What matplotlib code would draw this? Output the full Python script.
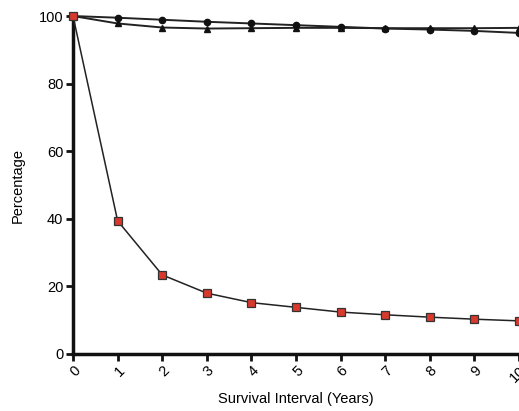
import matplotlib
matplotlib.use('Agg')
import matplotlib.pyplot as plt

plt.rcParams['font.family'] = ['Liberation Sans', 'DejaVu Sans']

years = [0, 1, 2, 3, 4, 5, 6, 7, 8, 9, 10]
series_circle = [100, 99.5, 98.9, 98.3, 97.8, 97.3, 96.8, 96.3, 96.0, 95.6, 95.0]
series_tri = [100, 97.8, 96.6, 96.3, 96.4, 96.5, 96.5, 96.4, 96.4, 96.4, 96.5]
series_square = [100, 39.4, 23.4, 18.0, 15.2, 13.8, 12.4, 11.6, 10.9, 10.3, 9.8]
yticks = [0, 20, 40, 60, 80, 100]

fig = plt.figure(figsize=(5.19, 4.11), dpi=100)
ax = fig.add_axes([0.1407, 0.1387, 0.8593, 0.8223])

ax.plot(years, series_tri, color='#222222', lw=1.4, marker='^', ms=4.5,
        mfc='#111111', mec='#111111', clip_on=False, zorder=3)
ax.plot(years, series_circle, color='#222222', lw=1.4, marker='o', ms=4.5,
        mfc='#111111', mec='#111111', clip_on=False, zorder=3)
ax.plot(years, series_square, color='#222222', lw=1.1, marker='s', ms=5.5,
        mfc='#d8392c', mec='#333333', mew=0.9, clip_on=False, zorder=4)

ax.set_xlim(0, 10)
ax.set_ylim(0, 100)
ax.set_xticks(years)
ax.set_xticklabels([str(y) for y in years], rotation=45, ha='right', va='top',
                   rotation_mode='anchor', fontsize=10.5)
ax.set_yticks(yticks)
ax.set_yticklabels([str(v) for v in yticks], fontsize=10.5)

for s in ['top', 'right']:
    ax.spines[s].set_visible(False)
for s in ['left', 'bottom']:
    ax.spines[s].set_linewidth(2.5)
    ax.spines[s].set_color('#111111')
ax.tick_params(axis='both', width=2, length=5, color='#111111', pad=2)

ax.set_xlabel('Survival Interval (Years)', fontsize=10.5, labelpad=5)
ax.set_ylabel('Percentage', fontsize=10.5, labelpad=10)

fig.savefig('out.png', dpi=100)
